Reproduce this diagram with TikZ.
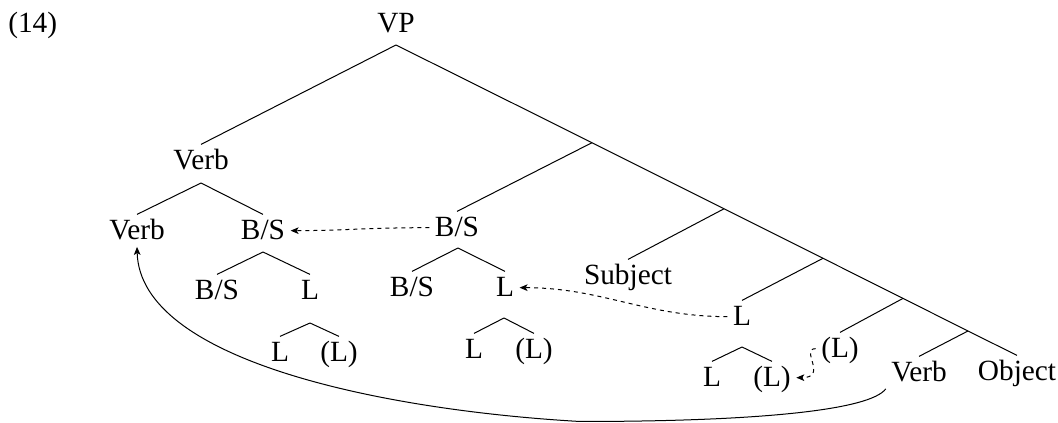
\documentclass[tikz,border=0pt]{standalone}
\usepackage{fontspec}
\setmainfont{Liberation Serif}
\usetikzlibrary{arrows.meta}
\begin{document}
\begin{tikzpicture}[x=0.75pt,y=-0.75pt,
  lab/.style={inner xsep=4pt,inner ysep=0pt,text height=19pt,text depth=5pt,anchor=base,font=\fontsize{22pt}{26pt}\selectfont},
  edge/.style={line width=0.75pt},
  mv/.style={line width=0.75pt,dashed,-{Stealth[length=6pt,width=5pt,inset=1.5pt]}},
  arc/.style={line width=0.75pt,-{Stealth[length=6pt,width=5pt,inset=1.5pt]}}]
\useasboundingbox (0,0) rectangle (1058,423);
% labels
\node[lab,anchor=base west,inner xsep=0pt] (ex) at (8,33) {(14)};
\node[lab] (vp) at (396,33) {VP};
\node[lab] (verbT) at (201,170) {Verb};
\node[lab] (verbL) at (137,240) {Verb};
\node[lab] (bs1) at (263,240) {B/S};
\node[lab] (bs2) at (217,300) {B/S};
\node[lab] (l1) at (310,300) {L};
\node[lab] (l1a) at (280,362) {L};
\node[lab] (l1b) at (339,362) {(L)};
\node[lab] (bs3) at (457,237) {B/S};
\node[lab] (bs4) at (412,297) {B/S};
\node[lab] (l2) at (505,297) {L};
\node[lab] (l2a) at (474,359) {L};
\node[lab] (l2b) at (534,359) {(L)};
\node[lab] (subj) at (628,285) {Subject};
\node[lab] (l3) at (742,326) {L};
\node[lab] (l3a) at (712,387) {L};
\node[lab] (l3b) at (772,387) {(L)};
\node[lab] (l4) at (840,358) {(L)};
\node[lab] (verbR) at (919,382) {Verb};
\node[lab] (obj) at (1017,381) {Object};
% apex coordinates
\coordinate (aVP) at (396,45);
\coordinate (aVerb) at (201,183);
\coordinate (aBS1) at (263,252);
\coordinate (aL1) at (310,323);
\coordinate (aBS3) at (458,248);
\coordinate (aL2) at (504,318);
\coordinate (aL3) at (742,347);
\coordinate (b1) at (592,142.7);
\coordinate (b2) at (724,208.8);
\coordinate (b3) at (823,258.3);
\coordinate (b4) at (903,298.4);
\coordinate (b5) at (968,331);
\coordinate (low) at (580,421.5);
% tree edges
\draw[edge] (aVP) -- (verbT.north);
\draw[edge] (aVP) -- (b1) -- (b2) -- (b3) -- (b4) -- (b5) -- (obj.north);
\draw[edge] (aVerb) -- (verbL.north);
\draw[edge] (aVerb) -- (bs1.north);
\draw[edge] (aBS1) -- (bs2.north);
\draw[edge] (aBS1) -- (l1.north);
\draw[edge] (aL1) -- (l1a.north);
\draw[edge] (aL1) -- (l1b.north);
\draw[edge] (b1) -- (bs3.north);
\draw[edge] (aBS3) -- (bs4.north);
\draw[edge] (aBS3) -- (l2.north);
\draw[edge] (aL2) -- (l2a.north);
\draw[edge] (aL2) -- (l2b.north);
\draw[edge] (b2) -- (subj.north);
\draw[edge] (b3) -- (l3.north);
\draw[edge] (aL3) -- (l3a.north);
\draw[edge] (aL3) -- (l3b.north);
\draw[edge] (b4) -- (l4.north);
\draw[edge] (b5) -- (verbR.north);
% movement arrows
\draw[mv] (bs3.west) .. controls +(-60,0) and +(50,0) .. (bs1.east);
\draw[mv] (l3.west) to[out=180,in=0] (l2.east);
\draw[mv] (l4.west) .. controls +(-16,0) and +(32,0) .. (l3b.east);
\draw[arc] (verbR.south west) .. controls (870,410) and (760,421.5) .. (low)
  .. controls (380,410) and (140,360) .. (verbL.south);
\end{tikzpicture}
\end{document}
